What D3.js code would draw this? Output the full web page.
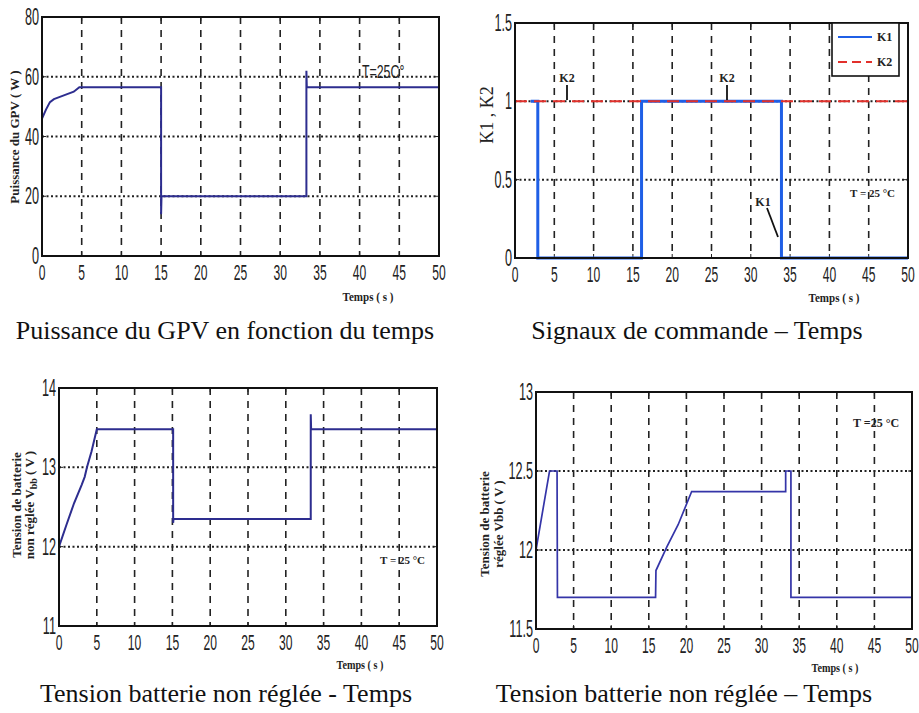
<!DOCTYPE html>
<html><head><meta charset="utf-8">
<script src="https://cdn.jsdelivr.net/npm/d3@7"></script>
<style>body{margin:0;background:#fff}svg{display:block}</style>
</head><body>
<script>
// ---------- DATA ----------
const xTicks = [0,5,10,15,20,25,30,35,40,45,50];

// Panel 1 : Puissance du GPV (W)
const tGPV = [0, 0.5, 1, 1.5, 2, 3, 4, 4.7, 15, 15, 15.05, 33.3, 33.3, 33.35, 50];
const pGPV = [46, 49, 51.5, 52.5, 53, 54, 55, 56.5, 56.5, 14, 20, 20, 62, 56.5, 56.5];
const yTicksGPV = [0, 20, 40, 60, 80];

// Panel 2 : signaux de commande
const tK1 = [2, 2.9, 2.9, 16.1, 16.1, 33.9, 33.9, 50];
const vK1 = [1, 1, 0, 0, 1, 1, 0, 0];
const tK2 = [0, 50];
const vK2 = [1, 1];
const yTicksK = [0, 0.5, 1, 1.5];

// Panel 3 : tension batterie non réglée
const tVnr = [0, 1, 2, 3, 3.4, 3.7, 4.3, 5, 15.1, 15.1, 15.15, 33.3, 33.3, 33.35, 50];
const vVnr = [12.0, 12.28, 12.55, 12.78, 12.88, 13.0, 13.2, 13.48, 13.48, 12.3, 12.35, 12.35, 13.67, 13.48, 13.48];
const yTicksVnr = [11, 12, 13, 14];

// Panel 4 : tension batterie réglée
const tVr = [0, 1.8, 2.8, 2.85, 15.9, 15.95, 17.4, 18.9, 20.7, 33.2, 33.2, 33.9, 33.9, 50];
const vVr = [12.0, 12.5, 12.5, 11.7, 11.7, 11.87, 12.02, 12.16, 12.37, 12.37, 12.5, 12.5, 11.7, 11.7];
const yTicksVr = [11.5, 12, 12.5, 13];

const captions = [
  "Puissance du GPV en fonction du temps",
  "Signaux de commande – Temps",
  "Tension batterie non réglée - Temps",
  "Tension batterie non réglée – Temps"
];

// ---------- DRAW ----------
const svg = d3.select("body").append("svg").attr("width", 919).attr("height", 713);
svg.append("rect").attr("width", 919).attr("height", 713).attr("fill", "#fff");

const tickFont = "'Liberation Sans', Arial, sans-serif";
const serif = "'Liberation Serif', 'Times New Roman', 'DejaVu Serif', serif";

function panel(cfg) {
  const x = d3.scaleLinear().domain([0, 50]).range([cfg.left, cfg.right]);
  const y = d3.scaleLinear().domain(cfg.ydom).range([cfg.bottom, cfg.top]);
  const g = svg.append("g");
  g.selectAll(null).data(xTicks.slice(1, -1)).join("line")
    .attr("x1", d => x(d)).attr("x2", d => x(d))
    .attr("y1", cfg.top).attr("y2", cfg.bottom)
    .attr("stroke", "#222").attr("stroke-width", 1.6).attr("stroke-dasharray", "7,6");
  g.selectAll(null).data(cfg.ygrid).join("line")
    .attr("x1", cfg.left).attr("x2", cfg.right)
    .attr("y1", d => y(d)).attr("y2", d => y(d))
    .attr("stroke", "#222").attr("stroke-width", 2).attr("stroke-dasharray", "2,2.5");
  const tk = 4;
  xTicks.forEach(d => {
    g.append("line").attr("x1", x(d)).attr("x2", x(d)).attr("y1", cfg.bottom).attr("y2", cfg.bottom - tk).attr("stroke", "#222");
    g.append("line").attr("x1", x(d)).attr("x2", x(d)).attr("y1", cfg.top).attr("y2", cfg.top + tk).attr("stroke", "#222");
  });
  cfg.yticks.forEach(d => {
    g.append("line").attr("x1", cfg.left).attr("x2", cfg.left + tk).attr("y1", y(d)).attr("y2", y(d)).attr("stroke", "#222");
    g.append("line").attr("x1", cfg.right).attr("x2", cfg.right - tk).attr("y1", y(d)).attr("y2", y(d)).attr("stroke", "#222");
  });
  g.selectAll(null).data(xTicks).join("text")
    .attr("transform", d => `translate(${x(d)},${cfg.bottom + 24}) scale(0.55,1)`)
    .attr("text-anchor", "middle").attr("font-family", tickFont).attr("font-size", 22)
    .attr("fill", "#222").text(d => d);
  g.selectAll(null).data(cfg.yticks).join("text")
    .attr("transform", d => `translate(${cfg.left - 3},${y(d) + 8}) scale(0.55,1)`)
    .attr("text-anchor", "end").attr("font-family", tickFont).attr("font-size", 23)
    .attr("fill", "#222").text(d => d);
  return {x, y, g};
}

const line = (x, y) => d3.line().x(d => x(d[0])).y(d => y(d[1]));
const zip = (a, b) => a.map((d, i) => [d, b[i]]);

// Panel 1
{
  const {x, y, g} = panel({left: 42, right: 439, top: 17, bottom: 256, ydom: [0, 80], yticks: yTicksGPV, ygrid: [20, 40, 60]});
  g.append("path").attr("d", line(x, y)(zip(tGPV, pGPV))).attr("fill", "none")
    .attr("stroke", "#2d2d8f").attr("stroke-width", 2);
  g.append("rect").attr("x", 42).attr("y", 17).attr("width", 397).attr("height", 239)
    .attr("fill", "none").attr("stroke", "#111").attr("stroke-width", 2);
  g.append("text").attr("transform", "translate(362,78) scale(0.65,1)")
    .attr("font-family", tickFont).attr("font-size", 19).attr("fill", "#222").text("T=25C°");
  g.append("text").attr("transform", "translate(19,137) rotate(-90)").attr("text-anchor", "middle")
    .attr("font-family", serif).attr("font-weight", "bold").attr("font-size", 13).attr("fill", "#222")
    .text("Puissance du GPV ( W )");
  g.append("text").attr("transform", "translate(368,301) scale(0.85,1)").attr("text-anchor", "middle")
    .attr("font-family", serif).attr("font-weight", "bold").attr("font-size", 13).attr("fill", "#222")
    .text("Temps ( s )");
}

// Panel 2
{
  const {x, y, g} = panel({left: 515, right: 908, top: 23, bottom: 258, ydom: [0, 1.5], yticks: yTicksK, ygrid: [0.5, 1]});
  g.append("path").attr("d", line(x, y)(zip(tK1, vK1))).attr("fill", "none")
    .attr("stroke", "#1f5fe6").attr("stroke-width", 3);
  g.append("path").attr("d", line(x, y)(zip(tK2, vK2))).attr("fill", "none")
    .attr("stroke", "#e2302b").attr("stroke-width", 2).attr("stroke-dasharray", "12,7");
  g.append("rect").attr("x", 515).attr("y", 23).attr("width", 393).attr("height", 235)
    .attr("fill", "none").attr("stroke", "#111").attr("stroke-width", 2);
  // legend
  g.append("rect").attr("x", 832).attr("y", 23).attr("width", 67).attr("height", 53)
    .attr("fill", "#fff").attr("stroke", "#111").attr("stroke-width", 1.6);
  g.append("line").attr("x1", 838).attr("x2", 872).attr("y1", 37).attr("y2", 37).attr("stroke", "#1f5fe6").attr("stroke-width", 2);
  g.append("line").attr("x1", 838).attr("x2", 872).attr("y1", 62).attr("y2", 62).attr("stroke", "#e2302b").attr("stroke-width", 2).attr("stroke-dasharray", "9,5");
  g.append("text").attr("x", 877).attr("y", 41).attr("font-family", serif).attr("font-weight", "bold").attr("font-size", 12).attr("fill", "#222").text("K1");
  g.append("text").attr("x", 877).attr("y", 66).attr("font-family", serif).attr("font-weight", "bold").attr("font-size", 12).attr("fill", "#222").text("K2");
  // annotations
  [567, 727].forEach(px => {
    g.append("text").attr("x", px).attr("y", 82).attr("text-anchor", "middle").attr("font-family", serif)
      .attr("font-weight", "bold").attr("font-size", 12).attr("fill", "#222").text("K2");
    g.append("line").attr("x1", px).attr("x2", px).attr("y1", 85).attr("y2", 100).attr("stroke", "#111").attr("stroke-width", 1.8);
  });
  g.append("text").attr("x", 763).attr("y", 206).attr("text-anchor", "middle").attr("font-family", serif)
    .attr("font-weight", "bold").attr("font-size", 12).attr("fill", "#222").text("K1");
  g.append("line").attr("x1", 767).attr("y1", 208).attr("x2", 778).attr("y2", 237).attr("stroke", "#111").attr("stroke-width", 1.8);
  g.append("text").attr("x", 850).attr("y", 197).attr("font-family", serif).attr("font-weight", "bold")
    .attr("font-size", 11).attr("fill", "#222").text("T = 25 °C");
  g.append("text").attr("transform", "translate(493,115) rotate(-90)").attr("text-anchor", "middle")
    .attr("font-family", serif).attr("font-size", 18).attr("fill", "#222").text("K1 , K2");
  g.append("text").attr("transform", "translate(834,302) scale(0.85,1)").attr("text-anchor", "middle")
    .attr("font-family", serif).attr("font-weight", "bold").attr("font-size", 13).attr("fill", "#222")
    .text("Temps ( s )");
}

// Panel 3
{
  const {x, y, g} = panel({left: 59, right: 437, top: 388, bottom: 626, ydom: [11, 14], yticks: yTicksVnr, ygrid: [12, 13]});
  g.append("path").attr("d", line(x, y)(zip(tVnr, vVnr))).attr("fill", "none")
    .attr("stroke", "#2d2d8f").attr("stroke-width", 2);
  g.append("rect").attr("x", 59).attr("y", 388).attr("width", 378).attr("height", 238)
    .attr("fill", "none").attr("stroke", "#111").attr("stroke-width", 2);
  g.append("text").attr("x", 380).attr("y", 564).attr("font-family", serif).attr("font-weight", "bold")
    .attr("font-size", 11).attr("fill", "#222").text("T = 25 °C");
  const t = g.append("text").attr("transform", "translate(21,505) rotate(-90)").attr("text-anchor", "middle")
    .attr("font-family", serif).attr("font-weight", "bold").attr("font-size", 13).attr("fill", "#222");
  t.append("tspan").attr("x", 0).attr("dy", 0).text("Tension de batterie");
  const t2 = t.append("tspan").attr("x", 0).attr("dy", 13).text("non réglée V");
  t2.append("tspan").attr("font-size", 10).attr("dy", 3).text("bb");
  t2.append("tspan").attr("dy", -3).text(" ( V )");
  g.append("text").attr("transform", "translate(360,669) scale(0.85,1)").attr("text-anchor", "middle")
    .attr("font-family", serif).attr("font-weight", "bold").attr("font-size", 12).attr("fill", "#222")
    .text("Temps ( s )");
}

// Panel 4
{
  const {x, y, g} = panel({left: 536, right: 912, top: 392, bottom: 629, ydom: [11.5, 13], yticks: yTicksVr, ygrid: [12, 12.5]});
  g.append("path").attr("d", line(x, y)(zip(tVr, vVr))).attr("fill", "none")
    .attr("stroke", "#3434a8").attr("stroke-width", 1.7);
  g.append("rect").attr("x", 536).attr("y", 392).attr("width", 376).attr("height", 237)
    .attr("fill", "none").attr("stroke", "#111").attr("stroke-width", 2);
  g.append("text").attr("x", 853).attr("y", 427).attr("font-family", serif).attr("font-weight", "bold")
    .attr("font-size", 12).attr("fill", "#222").text("T =25 °C");
  const t = g.append("text").attr("transform", "translate(489,524) rotate(-90)").attr("text-anchor", "middle")
    .attr("font-family", serif).attr("font-weight", "bold").attr("font-size", 13).attr("fill", "#222");
  t.append("tspan").attr("x", 0).attr("dy", 0).text("Tension de batterie");
  t.append("tspan").attr("x", 0).attr("dy", 14).text("réglée Vbb ( V )");
  g.append("text").attr("transform", "translate(835,672) scale(0.85,1)").attr("text-anchor", "middle")
    .attr("font-family", serif).attr("font-weight", "bold").attr("font-size", 12).attr("fill", "#222")
    .text("Temps ( s )");
}

// captions
const capPos = [[225, 339], [697, 339], [226, 702], [684, 702]];
svg.selectAll(".cap").data(captions).join("text").attr("class", "cap")
  .attr("x", (d, i) => capPos[i][0]).attr("y", (d, i) => capPos[i][1])
  .attr("text-anchor", "middle").attr("font-family", serif).attr("font-size", 26).attr("fill", "#111")
  .text(d => d);
</script>
</body></html>
